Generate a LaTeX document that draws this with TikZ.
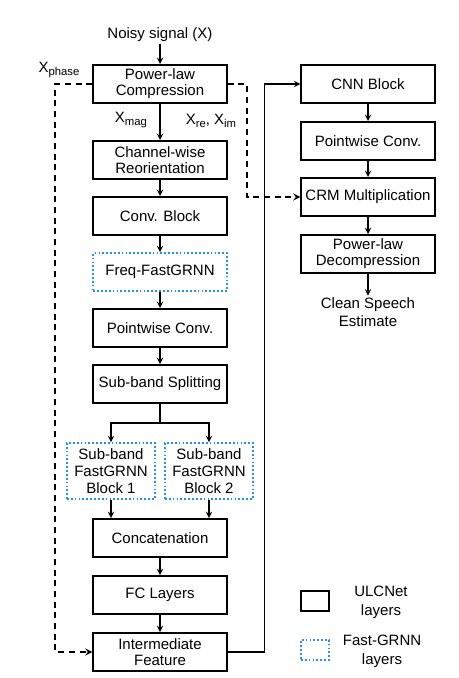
\documentclass[tikz,border=0pt]{standalone}
\usepackage{fontspec}
\setmainfont{Liberation Sans}
\usetikzlibrary{positioning}
\definecolor{grnnblue}{RGB}{30,144,255}
\newcommand{\smallsub}[1]{\raisebox{-0.35ex}{\fontsize{8.5pt}{9pt}\selectfont #1}}
\tikzset{
	blk/.style={draw,line width=1.5pt,minimum width=100pt,minimum height=28.5pt,align=center,inner sep=1pt,font=\fontsize{11.25pt}{12pt}\selectfont},
	fblk/.style={blk,draw=grnnblue,line width=1.3pt,dash pattern=on 1.3pt off 1.6pt},
	subblk/.style={minimum width=66pt,minimum height=42pt,font=\fontsize{11.25pt}{12.5pt}\selectfont},
	lbl/.style={align=center,inner sep=1pt,font=\fontsize{11.25pt}{14pt}\selectfont},
	conn/.style={line width=1.1pt},
	dashconn/.style={line width=1.3pt,dash pattern=on 4.5pt off 3.5pt}
}
\begin{document}
\begin{tikzpicture}[x=0.75pt,y=-0.75pt,>=stealth]
	\useasboundingbox (0,0) rectangle (458,678);
	% left column
	\node[lbl] (noisy) at (160,35) {Noisy signal (X)};
	\node[blk] (plc) at (160,84) {Power-law\\Compression};
	\node[blk] (cwr) at (160,160) {Channel-wise\\Reorientation};
	\node[blk] (conv) at (160,216) {Conv. Block};
	\node[fblk] (freq) at (160,272) {Freq-FastGRNN};
	\node[blk] (pw) at (160,328) {Pointwise Conv.};
	\node[blk] (sbs) at (160,384) {Sub-band Splitting};
	\node[fblk,subblk] (sb1) at (111,471) {Sub-band\\FastGRNN\\Block 1};
	\node[fblk,subblk] (sb2) at (209,471) {Sub-band\\FastGRNN\\Block 2};
	\node[blk] (cat) at (160,538) {Concatenation};
	\node[blk] (fc) at (160,595) {FC Layers};
	\node[blk] (inter) at (160,652) {Intermediate\\Feature};
	% right column
	\node[blk] (cnn) at (368,84) {CNN Block};
	\node[blk] (pw2) at (368,141) {Pointwise Conv.};
	\node[blk] (crm) at (368,197) {CRM Multiplication};
	\node[blk] (pld) at (368,254) {Power-law\\Decompression};
	\node[lbl] (clean) at (368,312) {Clean Speech\\Estimate};
	% signal labels
	\node[lbl] (xphase) at (59,70) {X\smallsub{phase}};
	\node[lbl] (xmag) at (131,120) {X\smallsub{mag}};
	\node[lbl] (xreim) at (211,121) {X\smallsub{re}, X\smallsub{im}};
	% connectors
	\draw[conn,->] (noisy) -- (plc);
	\draw[conn,->] (plc) -- (cwr);
	\draw[conn,->] (cwr) -- (conv);
	\draw[conn,->] (conv) -- (freq);
	\draw[conn,->] (freq) -- (pw);
	\draw[conn,->] (pw) -- (sbs);
	\coordinate (split) at (160,423);
	\draw[conn] (sbs) -- (split);
	\draw[conn,->] (split) -| (sb1);
	\draw[conn,->] (split) -| (sb2);
	\draw[conn,->] (sb1) -- (sb1 |- cat.north);
	\draw[conn,->] (sb2) -- (sb2 |- cat.north);
	\draw[conn,->] (cat) -- (fc);
	\draw[conn,->] (fc) -- (inter);
	\draw[conn,->] (inter.east) -- ++(37,0) |- (cnn.west);
	\draw[conn,->] (cnn) -- (pw2);
	\draw[conn,->] (pw2) -- (crm);
	\draw[conn,->] (crm) -- (pld);
	\draw[conn,->] (pld) -- (clean);
	\draw[dashconn,->] (plc.west) -- ++(-37,0) |- (inter.west);
	\draw[dashconn,->] (plc.east) -- ++(19,0) |- (crm.west);
	% legend
	\node[blk,minimum width=21pt,minimum height=15pt] (lgulc) at (315,601) {};
	\node[lbl] (lgulctxt) at (381,602) {ULCNet\\layers};
	\node[fblk,minimum width=21pt,minimum height=15pt] (lggrnn) at (315,650) {};
	\node[lbl] (lggrnntxt) at (382,651) {Fast-GRNN\\layers};
\end{tikzpicture}
\end{document}
